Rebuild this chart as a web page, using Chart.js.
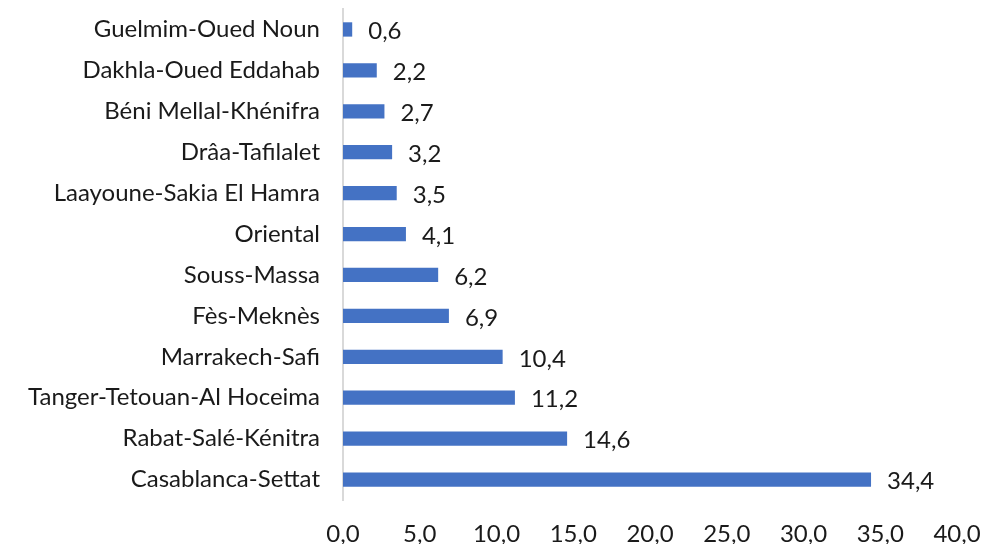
<!DOCTYPE html>
<html>
<head>
<meta charset="utf-8">
<script src="https://cdn.jsdelivr.net/npm/chart.js@4.4.1/dist/chart.umd.min.js"></script>
<style>
  html, body { margin: 0; padding: 0; background: #fff; }
  #wrap { width: 984px; height: 544px; }
</style>
</head>
<body>
<div id="wrap"><canvas id="regionChart"></canvas></div>
<script>
const regions = [
  "Guelmim-Oued Noun",
  "Dakhla-Oued Eddahab",
  "Béni Mellal-Khénifra",
  "Drâa-Tafilalet",
  "Laayoune-Sakia El Hamra",
  "Oriental",
  "Souss-Massa",
  "Fès-Meknès",
  "Marrakech-Safi",
  "Tanger-Tetouan-Al Hoceima",
  "Rabat-Salé-Kénitra",
  "Casablanca-Settat"
];
const shares = [0.6, 2.2, 2.7, 3.2, 3.5, 4.1, 6.2, 6.9, 10.4, 11.2, 14.6, 34.4];
const xTicks = [0, 5, 10, 15, 20, 25, 30, 35, 40];

const fmt = v => v.toFixed(1).replace(".", ",");
const textColor = "#1a1a1a";
const fontFamily = "Lato, 'Open Sans', sans-serif";

// simple value labels drawn after each bar
const barValueLabels = {
  id: "barValueLabels",
  afterDatasetsDraw(chart) {
    const ctx = chart.ctx;
    const meta = chart.getDatasetMeta(0);
    ctx.save();
    ctx.font = "24px " + fontFamily;
    ctx.fillStyle = textColor;
    ctx.textAlign = "left";
    ctx.textBaseline = "middle";
    meta.data.forEach((bar, i) => {
      ctx.fillText(fmt(shares[i]), bar.x + 16, bar.y + 2);
    });
    ctx.restore();
  }
};

new Chart(document.getElementById("regionChart").getContext("2d"), {
  type: "bar",
  data: {
    labels: regions,
    datasets: [{
      data: shares,
      backgroundColor: "#4472C4",
      borderWidth: 0,
      categoryPercentage: 1,
      barPercentage: 0.35
    }]
  },
  options: {
    indexAxis: "y",
    responsive: true,
    maintainAspectRatio: false,
    animation: false,
    layout: { padding: { top: 9, right: 27, bottom: 0, left: 0 } },
    plugins: {
      legend: { display: false },
      tooltip: { enabled: false }
    },
    scales: {
      y: {
        grid: { display: false },
        border: { display: true, color: "#d9d9d9", width: 2 },
        ticks: {
          color: textColor,
          font: { family: fontFamily, size: 24 },
          padding: 15
        },
        afterFit: scale => {
          scale.width = 343;
          scale.paddingTop = 0;
          scale.paddingBottom = 0;
        }
      },
      x: {
        min: 0,
        max: 40,
        grid: { display: false },
        border: { display: false },
        afterBuildTicks: scale => { scale.ticks = xTicks.map(v => ({ value: v })); },
        ticks: {
          color: textColor,
          font: { family: fontFamily, size: 24 },
          padding: 12,
          maxRotation: 0,
          callback: v => fmt(v)
        },
        afterFit: scale => {
          scale.height = 44;
          scale.paddingLeft = 0;
          scale.paddingRight = 0;
        }
      }
    }
  },
  plugins: [barValueLabels]
});
</script>
</body>
</html>
